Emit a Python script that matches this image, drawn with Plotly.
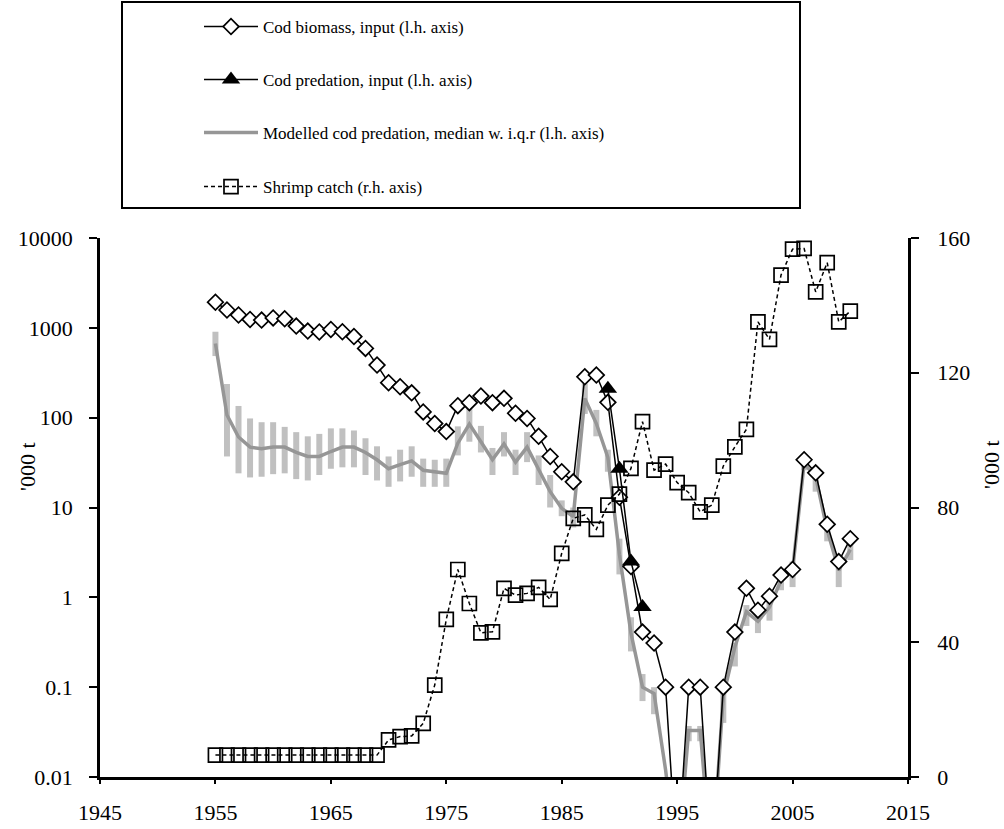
import plotly.graph_objects as go

years = list(range(1955, 2011))

cod_biomass = [1930, 1580, 1390, 1240, 1220, 1290, 1260, 1045, 920, 900,
               960, 905, 800, 590, 385, 245, 221, 189, 116, 86,
               70, 136, 147, 174, 147, 164, 112, 98, 62, 37,
               25, 19.3, 285, 298, 148, 13, 2.2, 0.41, 0.31, 0.1,
               0, 0.1, 0.1, 0, 0.1, 0.41, 1.26, 0.72, 1.03, 1.77,
               2.04, 34, 24.3, 6.5, 2.5, 4.5]

pred_years = [1989, 1990, 1991, 1992]
cod_predation = [210, 27, 2.5, 0.78]

model_median = [670, 107, 61, 47, 45, 47, 47, 41, 37, 37,
                42, 47, 47, 41, 34, 27, 30, 33, 26, 25,
                24, 52, 85, 54, 34, 51, 32, 47, 27, 15,
                9.8, 7.9, 164, 86, 36, 3, 0.4, 0.1, 0.085, 0.012,
                0, 0.033, 0.033, 0, 0.08, 0.28, 0.69, 0.54, 0.78, 1.55,
                2.0, 31, 22, 5.6, 2.0, 3.4]
iqr_low = [485, 37, 24, 21.6, 22, 23.5, 24, 20.7, 20, 23,
           27, 28, 28, 23, 20, 17, 19.5, 22, 17, 17,
           17, 38, 54, 41, 23, 37, 23, 32, 17.8, 10,
           8, 6, 110, 62, 25, 1.8, 0.25, 0.07, 0.05, None,
           None, 0.025, 0.025, None, 0.04, 0.17, 0.48, 0.40, 0.55, 1.2,
           1.3, 26, 15, 4.2, 1.3, 2.6]
iqr_high = [905, 237, 135, 98, 89, 89, 79, 69, 62, 66,
            76, 76, 72, 59, 48, 37, 44, 48, 35, 34,
            35, 80, 126, 81, 46, 69, 44, 69, 38, 23,
            12, 10, 240, 122, 44, 4.5, 0.6, 0.14, 0.1, None,
            None, 0.037, 0.037, None, 0.093, 0.31, 0.82, 0.73, 0.95, 1.9,
            2.5, 36, 28, 7, 2.5, 4.0]

shrimp_catch = [6.5] * 15 + [11.0, 12.0, 12.2, 15.9, 27.3, 46.8, 61.6, 51.5, 42.8, 43.1,
                             56.0, 54.0, 54.5, 56.3, 52.7, 66.4, 76.8, 77.8, 73.5, 80.7,
                             84.0, 91.6, 105.5, 91.1, 92.9, 87.4, 84.4, 78.7, 80.7, 92.3,
                             98.0, 103.2, 135.1, 129.9, 149.0, 156.7, 156.9, 144.0, 152.7, 135.1,
                             138.3]

left_ticks = [0.01, 0.1, 1, 10, 100, 1000, 10000]
left_ticktext = ["0.01", "0.1", "1", "10", "100", "1000", "10000"]
x_ticks = [1945, 1955, 1965, 1975, 1985, 1995, 2005, 2015]
right_ticks = [0, 40, 80, 120, 160]
axis_title = "'000 t"

LOG_FLOOR = 0.001  # zero values plotted far below the log axis (as in the source)


def on_log(vals):
    return [v if v > 0 else LOG_FLOOR for v in vals]


FONT = "Liberation Serif"

# IQR bars as error bars around the median
err_plus, err_minus, mid = [], [], []
for m, lo, hi in zip(model_median, iqr_low, iqr_high):
    if lo is None or hi is None:
        mid.append(None)
        err_plus.append(0)
        err_minus.append(0)
    else:
        mid.append(m)
        err_plus.append(hi - m)
        err_minus.append(m - lo)

fig = go.Figure()

fig.add_trace(go.Scatter(
    x=years, y=mid, mode="markers", marker=dict(size=1, opacity=0),
    error_y=dict(type="data", symmetric=False, array=err_plus, arrayminus=err_minus,
                 color="rgb(192,192,192)", thickness=6, width=0),
    showlegend=False, hoverinfo="skip"))

fig.add_trace(go.Scatter(
    x=years, y=on_log(model_median), mode="lines",
    line=dict(color="rgb(150,150,150)", width=3.5),
    name="Modelled cod predation, median w. i.q.r (l.h. axis)", legend="legend3"))

fig.add_trace(go.Scatter(
    x=years, y=on_log(cod_biomass), mode="lines+markers",
    line=dict(color="black", width=1.5),
    marker=dict(symbol="diamond", size=12, color="white", line=dict(color="black", width=1.7)),
    name="Cod biomass, input (l.h. axis)", legend="legend"))

fig.add_trace(go.Scatter(
    x=pred_years, y=cod_predation, mode="lines+markers",
    line=dict(color="black", width=1.5),
    marker=dict(symbol="triangle-up", size=16, color="black"),
    name="Cod predation, input (l.h. axis)", legend="legend2"))

fig.add_trace(go.Scatter(
    x=years, y=shrimp_catch, mode="lines+markers", yaxis="y2",
    line=dict(color="black", width=1.5, dash="4px,3px"),
    marker=dict(symbol="square-open", size=14, color="black", line=dict(width=1.7)),
    name="Shrimp catch (r.h. axis)", legend="legend4"))

PLOT_TOP, PLOT_BOTTOM = 238, 777
PH = PLOT_BOTTOM - PLOT_TOP


def py(pix):
    return (PLOT_BOTTOM - pix) / PH


def px(pix):
    return (pix - 100) / 808


leg_common = dict(xanchor="left", yanchor="middle", bgcolor="rgba(0,0,0,0)",
                  font=dict(family=FONT, size=17, color="black"), itemwidth=54,
                  borderwidth=0)

title_font = dict(family=FONT, size=22, color="black")

fig.update_layout(
    width=1004, height=829,
    margin=dict(l=100, r=96, t=238, b=52, autoexpand=False),
    paper_bgcolor="white", plot_bgcolor="white",
    font=dict(family=FONT, size=22, color="black"),
    xaxis=dict(range=[1945, 2015], tickvals=x_ticks, ticks="outside", ticklen=4,
               tickwidth=2, tickcolor="black", showline=True, linewidth=3, linecolor="black",
               showgrid=False, zeroline=False, ticklabelstandoff=10, automargin=False,
               tickfont=dict(family=FONT, size=22, color="black")),
    yaxis=dict(type="log", range=[-2, 4], tickvals=left_ticks, ticktext=left_ticktext,
               ticks="outside", ticklen=8, tickwidth=2, tickcolor="black",
               showline=True, linewidth=2.5, linecolor="black", showgrid=False,
               zeroline=False, ticklabelstandoff=12, automargin=False,
               tickfont=dict(family=FONT, size=22, color="black")),
    yaxis2=dict(range=[0, 160], tickvals=right_ticks, overlaying="y", side="right",
                ticks="outside", ticklen=8, tickwidth=2, tickcolor="black",
                showline=True, linewidth=2.5, linecolor="black", showgrid=False,
                zeroline=False, ticklabelstandoff=14, automargin=False,
                tickfont=dict(family=FONT, size=22, color="black")),
    legend=dict(x=px(199), y=py(27), **leg_common),
    legend2=dict(x=px(199), y=py(80), **leg_common),
    legend3=dict(x=px(199), y=py(133), **leg_common),
    legend4=dict(x=px(199), y=py(187), **leg_common),
    shapes=[dict(type="rect", xref="paper", yref="paper",
                 x0=px(122), x1=px(800), y0=py(208), y1=py(2),
                 line=dict(color="black", width=2), fillcolor="rgba(0,0,0,0)")],
    annotations=[
        dict(text=axis_title, textangle=-90, xref="paper", yref="paper",
             x=px(27), y=py(467), xanchor="center", yanchor="middle",
             showarrow=False, font=title_font),
        dict(text=axis_title, textangle=-90, xref="paper", yref="paper",
             x=px(991), y=py(465), xanchor="center", yanchor="middle",
             showarrow=False, font=title_font),
    ],
)

fig.write_html("out.html")
